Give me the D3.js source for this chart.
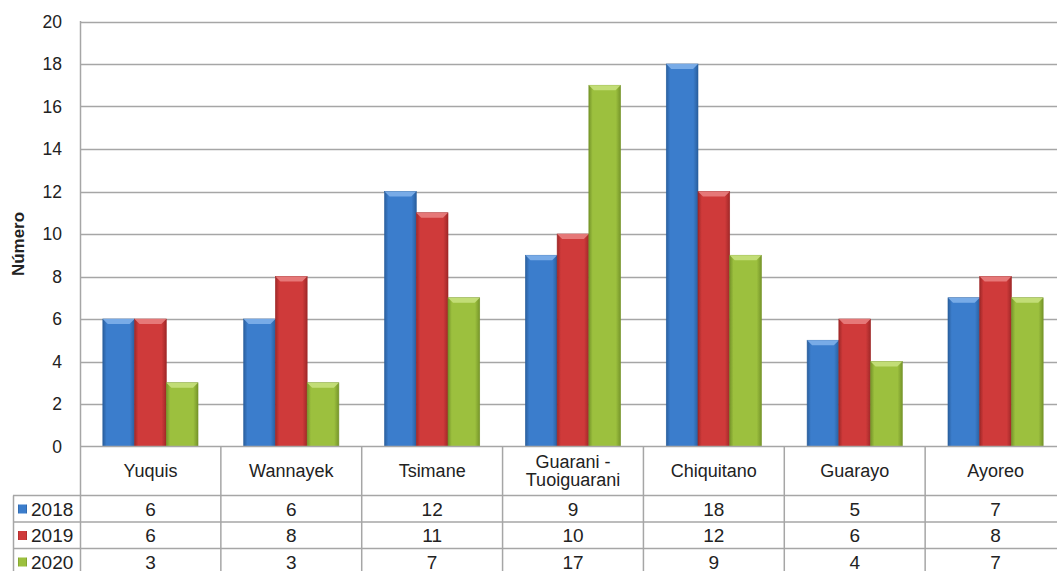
<!DOCTYPE html>
<html>
<head>
<meta charset="utf-8">
<script src="https://cdn.jsdelivr.net/npm/d3@7"></script>
<style>
  body { margin: 0; background: #fff; overflow: hidden; }
  text { font-family: "Liberation Sans", Arial, sans-serif; fill: #222; }
</style>
</head>
<body>
<div id="chart"></div>
<script>
// data
const categories = ['Yuquis', 'Wannayek', 'Tsimane', 'Guarani - Tuoiguarani', 'Chiquitano', 'Guarayo', 'Ayoreo'];
const years = ['2018', '2019', '2020'];
const v2018 = [6, 6, 12, 9, 18, 5, 7];
const v2019 = [6, 8, 11, 10, 12, 6, 8];
const v2020 = [3, 3, 7, 17, 9, 4, 7];
const yTicks = [0, 2, 4, 6, 8, 10, 12, 14, 16, 18, 20];

const seriesValues = [v2018, v2019, v2020];
const colors = ['#3b7dcc', '#cf3a3a', '#9cc03e'];
const darks = ['#2a5f9e', '#a02828', '#76952a'];
const lights = ['#7fb0ea', '#e88080', '#c6e07c'];

const width = 1057, height = 571;
const plotLeft = 80, plotRight = 1066, plotTop = 21.5, plotBottom = 446.5;
const rowH = [49, 26.5, 26.5, 26.5];

const svg = d3.select('#chart').append('svg')
  .attr('width', width).attr('height', height);

const defs = svg.append('defs');
colors.forEach((c, i) => {
  const g = defs.append('linearGradient').attr('id', 'grad' + i)
    .attr('x1', 0).attr('x2', 1).attr('y1', 0).attr('y2', 0);
  g.append('stop').attr('offset', '0%').attr('stop-color', darks[i]);
  g.append('stop').attr('offset', '12%').attr('stop-color', c);
  g.append('stop').attr('offset', '85%').attr('stop-color', c);
  g.append('stop').attr('offset', '100%').attr('stop-color', darks[i]);
});

const x = d3.scaleBand().domain(categories).range([plotLeft, plotRight]);
const x1 = d3.scaleBand().domain(years).range([0, x.bandwidth()]).paddingOuter(0.72);
const y = d3.scaleLinear().domain([0, 20]).range([plotBottom, plotTop]);

// grid lines
svg.append('g').selectAll('line')
  .data(yTicks.filter(t => t > 0))
  .enter().append('line')
  .attr('x1', plotLeft).attr('x2', plotRight)
  .attr('y1', d => Math.round(y(d)) + 0.5).attr('y2', d => Math.round(y(d)) + 0.5)
  .attr('stroke', '#a6a6a6').attr('stroke-width', 1.5);

// y axis labels
svg.append('g').selectAll('text')
  .data(yTicks)
  .enter().append('text')
  .attr('x', 62).attr('y', d => y(d) + 6)
  .attr('text-anchor', 'end')
  .attr('font-size', 17.5)
  .text(d => d);

svg.append('text')
  .attr('transform', `translate(24,${(plotTop + plotBottom) / 2 + 10}) rotate(-90)`)
  .attr('text-anchor', 'middle')
  .attr('font-size', 17).attr('font-weight', 'bold')
  .attr('fill', '#000')
  .text('Número');

// bars
const groups = svg.append('g').selectAll('g')
  .data(categories)
  .enter().append('g')
  .attr('transform', d => `translate(${x(d)},0)`);

years.forEach((yr, si) => {
  const bw = x1.bandwidth();
  groups.append('rect')
    .attr('x', x1(yr))
    .attr('y', (d, i) => y(seriesValues[si][i]))
    .attr('width', bw)
    .attr('height', (d, i) => y(0) - y(seriesValues[si][i]))
    .attr('fill', `url(#grad${si})`)
    .attr('stroke', darks[si]).attr('stroke-width', 0.6);
  // top bevel
  groups.append('path')
    .attr('d', (d, i) => {
      const x0 = x1(yr), yt = y(seriesValues[si][i]);
      return `M${x0},${yt}L${x0 + bw},${yt}L${x0 + bw - 5},${yt + 5}L${x0 + 5},${yt + 5}Z`;
    })
    .attr('fill', lights[si]).attr('opacity', 0.9);
});

// axis line
svg.append('line')
  .attr('x1', plotLeft + 0.5).attr('x2', plotLeft + 0.5)
  .attr('y1', plotTop - 0.5).attr('y2', height)
  .attr('stroke', '#a6a6a6').attr('stroke-width', 1.5);

// data table
const tbl = svg.append('g');
const rowY = [plotBottom];
rowH.forEach(h => rowY.push(rowY[rowY.length - 1] + h));
const lineColor = '#a6a6a6';

// horizontal lines
rowY.forEach((ry, i) => {
  tbl.append('line')
    .attr('x1', i === 0 ? plotLeft : 13).attr('x2', plotRight)
    .attr('y1', ry).attr('y2', ry)
    .attr('stroke', lineColor).attr('stroke-width', 1.5);
});
// vertical lines
categories.forEach(c => {
  tbl.append('line')
    .attr('x1', x(c) + x.bandwidth()).attr('x2', x(c) + x.bandwidth())
    .attr('y1', plotBottom).attr('y2', height)
    .attr('stroke', lineColor).attr('stroke-width', 1.5);
});
tbl.append('line')
  .attr('x1', 13.5).attr('x2', 13.5)
  .attr('y1', rowY[1]).attr('y2', height)
  .attr('stroke', lineColor).attr('stroke-width', 1.5);

// category labels
categories.forEach(c => {
  const cx = x(c) + x.bandwidth() / 2;
  const lines = c === 'Guarani - Tuoiguarani' ? ['Guarani -', 'Tuoiguarani'] : [c];
  lines.forEach((ln, j) => {
    tbl.append('text')
      .attr('x', cx)
      .attr('y', lines.length === 1 ? plotBottom + 30 : plotBottom + 21 + j * 18)
      .attr('text-anchor', 'middle')
      .attr('font-size', 18)
      .text(ln);
  });
});

// value rows
years.forEach((yr, si) => {
  const ry = rowY[si + 1];
  tbl.append('rect')
    .attr('x', 18).attr('y', ry + 9).attr('width', 9).attr('height', 9)
    .attr('fill', `url(#grad${si})`);
  tbl.append('text')
    .attr('x', 31).attr('y', ry + 20)
    .attr('font-size', 19)
    .text(yr);
  categories.forEach((c, i) => {
    tbl.append('text')
      .attr('x', x(c) + x.bandwidth() / 2)
      .attr('y', ry + 20)
      .attr('text-anchor', 'middle')
      .attr('font-size', 19)
      .text(seriesValues[si][i]);
  });
});
</script>
</body>
</html>
